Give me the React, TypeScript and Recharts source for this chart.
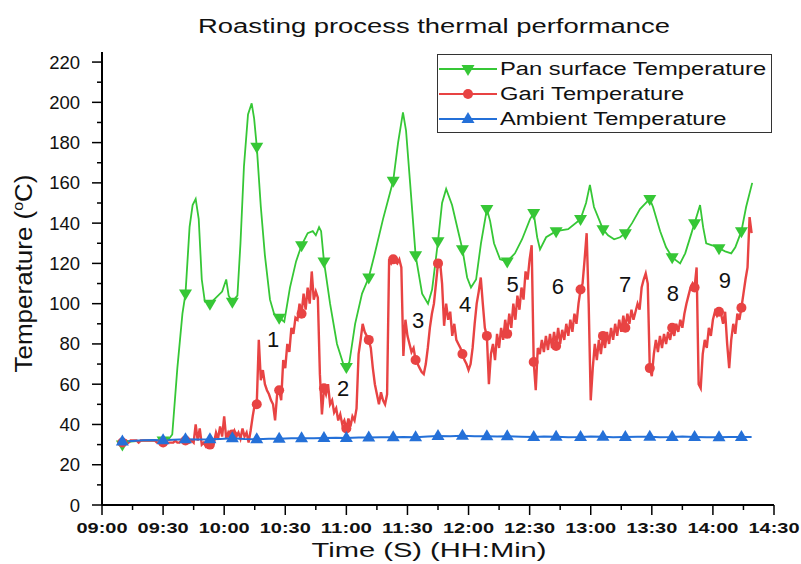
import React from 'react';
import { LineChart, Line, XAxis, YAxis, ReferenceDot, Legend } from 'recharts';

const FONT = '"Liberation Sans", Arial, Helvetica, sans-serif';

// time axis runs in minutes after 09:00
const xTicks = [0, 15, 30, 45, 60, 75, 90, 105, 120, 135, 150, 165, 180, 195, 210, 225, 240, 255, 270, 285, 300, 315, 330];
const xTickLabels = ['09:00', '09:30', '10:00', '10:30', '11:00', '11:30', '12:00', '12:30', '13:00', '13:30', '14:00', '14:30'];
const yTicks = [0, 10, 20, 30, 40, 50, 60, 70, 80, 90, 100, 110, 120, 130, 140, 150, 160, 170, 180, 190, 200, 210, 220];

// readings that carry a symbol
const markerTimes = [10, 30, 41, 53, 64, 76, 87, 98, 109, 120, 131, 143, 154, 165, 177, 189, 199, 212, 223, 235, 246, 257, 269, 280, 291, 303, 314];

// [minute, °C]
const panSurface: [number, number][] = [
  [10, 30], [14, 31.5], [20, 32], [25, 32], [30, 32], [33, 33], [34.5, 35], [37, 68], [39.5, 95], [41, 105],
  [43, 138], [44.5, 149], [46, 152], [47.5, 142], [49, 112], [50.5, 101], [53, 100], [56, 103], [59, 106], [61, 112],
  [62.2, 104], [64, 101], [66.5, 104], [68, 130], [69.7, 168], [71.7, 194], [73.5, 199.5], [74.7, 192], [76, 178], [78, 148],
  [80, 124], [82.5, 102], [84.5, 95], [87, 93], [89.5, 91], [92.3, 108], [95.3, 121], [98, 129], [101, 135], [103.5, 136],
  [105, 134], [106.6, 138], [107.6, 136], [109, 121], [112, 100], [115.4, 80], [118.5, 70], [120, 68.6], [121.5, 71], [124.3, 90],
  [127.7, 105], [131, 113], [134, 125], [138, 142], [143, 161], [145.4, 180], [147.8, 195], [149.3, 186], [151.3, 160], [154, 124],
  [157.2, 105], [160.1, 100], [162.1, 107], [165, 131], [167, 150], [169, 157], [171.9, 149], [174.9, 136], [177, 127], [179.3, 113],
  [181.2, 108], [183.7, 112], [186.1, 130], [189, 147], [190.6, 141], [192.5, 130], [195.5, 122], [199, 121], [202.8, 125], [206.3, 132],
  [210.2, 142], [212, 145], [213.7, 133], [215.1, 127], [218.1, 133], [223, 136], [228.9, 137], [235, 142], [237.7, 150], [239.6, 159],
  [241.6, 148], [246, 137], [248.5, 134], [251.5, 132], [254.4, 133], [257, 135], [260.3, 140], [264.2, 147], [269, 152], [270.6, 148],
  [274.1, 136], [277, 128], [280, 123], [283.9, 120], [286.4, 125], [291, 140], [293.7, 149], [295.2, 138], [296.7, 130], [299.6, 129],
  [303, 127.5], [306, 126], [309, 125], [311, 128], [314, 136], [316.3, 148], [319.3, 160],
];

// gari thermocouple logged once a minute from 09:10
const gariStart = 10;
const gariTemps = [
  31, 31, 32, 31, 32, 32, 32, 32, 31, 32,
  32, 32, 32, 32, 32, 32, 32, 31, 31, 30,
  31, 32, 31, 31, 31, 31, 32, 31, 31, 32,
  31, 32, 31, 31, 32, 31, 40, 32, 38, 30,
  31, 29, 30, 30, 29, 31, 36, 33, 39, 34,
  44, 33, 36, 34, 35, 37, 34, 36, 33, 38,
  34, 36, 31, 37, 44, 50, 50, 82, 62, 67,
  60, 57, 55, 52, 50, 42, 55, 57, 52, 72,
  68, 80, 76, 88, 85, 93, 92, 100, 95, 105,
  97, 108, 100, 116, 102, 106, 103, 65, 45, 58,
  55, 60, 50, 52, 46, 48, 42, 45, 40, 42,
  38, 43, 39, 44, 42, 48, 75, 82, 90, 86,
  84, 82, 78, 68, 60, 55, 50, 56, 52, 50,
  55, 122, 120, 122, 121, 120, 122, 118, 74, 92,
  84, 80, 76, 78, 72, 70, 68, 66, 65, 70,
  78, 88, 95, 100, 110, 120, 121, 110, 89, 100,
  92, 96, 84, 90, 82, 80, 78, 75, 72, 70,
  67, 70, 78, 90, 100, 106, 113, 100, 88, 84,
  60, 75, 80, 72, 85, 78, 88, 82, 92, 85,
  95, 88, 100, 92, 104, 97, 108, 102, 116, 112,
  122, 129, 71, 57, 78, 75, 82, 76, 84, 77,
  85, 78, 86, 79, 88, 80, 87, 82, 90, 84,
  92, 86, 95, 90, 100, 107, 110, 122, 135, 100,
  52, 68, 80, 72, 82, 75, 84, 78, 86, 80,
  88, 82, 90, 84, 92, 86, 94, 88, 95, 90,
  97, 92, 96, 100, 97, 108, 112, 115, 110, 68,
  64, 75, 82, 76, 84, 78, 85, 80, 86, 82,
  88, 84, 90, 86, 92, 88, 95, 100, 104, 108,
  110, 108, 118, 60, 58, 75, 82, 78, 88, 84,
  92, 96, 94, 96, 95, 90, 96, 80, 68, 82,
  90, 85, 95, 92, 98, 105, 112, 118, 143, 135,
];

const ambient: [number, number][] = [
  [10, 31.5], [15, 31.8], [20, 32.2], [25, 32.3], [30, 32.2], [35, 32.4], [41, 32.6], [47, 32.5], [53, 32.6], [58, 32.8],
  [64, 33.1], [70, 32.8], [76, 32.7], [82, 32.9], [87, 32.9], [93, 33.1], [98, 33.2], [104, 33.1], [109, 33.3], [115, 33.4],
  [120, 33.3], [126, 33.5], [131, 33.5], [137, 33.7], [143, 33.6], [148, 33.8], [154, 33.7], [160, 34], [165, 34.3], [171, 34.1],
  [177, 34.4], [183, 34.2], [189, 34.2], [194, 34], [199, 34.1], [206, 33.9], [212, 33.8], [217, 34], [223, 33.9], [229, 33.7],
  [235, 33.8], [240, 34], [246, 33.9], [251, 33.7], [257, 33.8], [263, 33.9], [269, 33.9], [274, 33.7], [280, 33.8], [285, 34],
  [291, 33.8], [297, 33.6], [303, 33.7], [308, 33.8], [314, 33.8], [319, 33.8],
];

// roasting cycle numbers
const cycleLabels = [
  { label: '1', t: 84, temp: 82.4 },
  { label: '2', t: 118.4, temp: 58.2 },
  { label: '3', t: 155.2, temp: 92 },
  { label: '4', t: 178.3, temp: 99.8 },
  { label: '5', t: 201.7, temp: 109.7 },
  { label: '6', t: 223.9, temp: 108.7 },
  { label: '7', t: 256.9, temp: 109.7 },
  { label: '8', t: 280.4, temp: 105.4 },
  { label: '9', t: 305.9, temp: 111.7 },
];

const panData = panSurface.map(([t, v]) => ({ t, v }));
const gariData = gariTemps.map((v, i) => ({ t: gariStart + i, v }));
const ambientData = ambient.map(([t, v]) => ({ t, v }));

type Shape = 'down' | 'circle' | 'up';

const series = [
  { name: 'Pan surface Temperature', color: '#36c736', width: 1.8, shape: 'down' as Shape, data: panData },
  { name: 'Gari Temperature', color: '#e84343', width: 2.4, shape: 'circle' as Shape, data: gariData },
  { name: 'Ambient Temperature', color: '#2470d8', width: 2, shape: 'up' as Shape, data: ambientData },
];

const markerSet = new Set(markerTimes);

function Marker({ shape, cx, cy, color }: { shape: Shape; cx: number; cy: number; color: string }) {
  if (shape === 'circle') return <circle cx={cx} cy={cy} r={5} fill={color} />;
  if (shape === 'down') {
    return <polygon points={`${cx - 6.5},${cy - 4} ${cx + 6.5},${cy - 4} ${cx},${cy + 7}`} fill={color} />;
  }
  return <polygon points={`${cx - 6.5},${cy + 4} ${cx + 6.5},${cy + 4} ${cx},${cy - 7}`} fill={color} />;
}

const makeDot = (shape: Shape, color: string) => (props: any) => {
  const { cx, cy, payload, index } = props;
  if (!markerSet.has(payload.t)) return <g key={`n-${index}`} />;
  return (
    <g key={`m-${index}`}>
      <Marker shape={shape} cx={cx} cy={cy} color={color} />
    </g>
  );
};

function BottomTick({ x, y, payload }: any) {
  const v = payload.value;
  const major = v % 30 === 0;
  return (
    <g>
      <line x1={x} x2={x} y1={y} y2={y + (major ? 10 : 5)} stroke="#000" strokeWidth={1.5} />
      {major && (
        <text x={x} y={y + 28} textAnchor="middle" fontFamily={FONT} fontWeight="bold" fontSize={15}
          fill="#111" textLength={51} lengthAdjust="spacingAndGlyphs">
          {xTickLabels[v / 30]}
        </text>
      )}
    </g>
  );
}

function TopTick({ x, y, payload }: any) {
  const major = payload.value % 30 === 0;
  return <line x1={x} x2={x} y1={y} y2={y + (major ? 8 : 5)} stroke="#000" strokeWidth={1.5} />;
}

function LeftTick({ x, y, payload }: any) {
  const v = payload.value;
  const major = v % 20 === 0;
  return (
    <g>
      <line x1={x - (major ? 10 : 5)} x2={x} y1={y} y2={y} stroke="#000" strokeWidth={1.5} />
      {major && (
        <text x={x - 22} y={y + 6.5} textAnchor="end" fontFamily={FONT} fontSize={18.5} fill="#111">
          {v}
        </text>
      )}
    </g>
  );
}

function RightTick({ x, y, payload }: any) {
  const major = payload.value % 20 === 0;
  return <line x1={x - (major ? 10 : 5)} x2={x} y1={y} y2={y} stroke="#000" strokeWidth={1.5} />;
}

const XTitle = ({ viewBox }: any) => (
  <text x={viewBox.x + viewBox.width / 2 - 9} y={viewBox.y + 52} textAnchor="middle" fontFamily={FONT}
    fontSize={20.5} fill="#111" textLength={235} lengthAdjust="spacingAndGlyphs">
    Time (S) (HH:Min)
  </text>
);

const YTitle = ({ viewBox }: any) => {
  const x = viewBox.x + 32;
  const y = viewBox.y + viewBox.height / 2 - 5;
  return (
    <text x={x} y={y} transform={`rotate(-90 ${x} ${y})`} textAnchor="middle" fontFamily={FONT}
      fontSize={23} fill="#111" textLength={198} lengthAdjust="spacingAndGlyphs">
      Temperature (<tspan fontSize={14} dy={-9}>o</tspan><tspan dy={9}>C)</tspan>
    </text>
  );
};

const renderLegend = () => (
  <svg width={335} height={79} style={{ display: 'block' }}>
    <rect x={0.5} y={0.5} width={334} height={78} fill="#fff" stroke="#333" strokeWidth={1} />
    {series.map((s, i) => {
      const cy = 15 + i * 25;
      return (
        <g key={s.name}>
          <line x1={2} x2={60} y1={cy} y2={cy} stroke={s.color} strokeWidth={2} />
          <Marker shape={s.shape} cx={31} cy={cy} color={s.color} />
          <text transform={`translate(63 ${cy + 6}) scale(1.32 1)`} fontFamily={FONT} fontSize={18} fill="#111">
            {s.name}
          </text>
        </g>
      );
    })}
  </svg>
);

export default function App() {
  return (
    <div style={{ position: 'absolute', left: 0, top: 0, width: 801, height: 564, background: '#fff' }}>
      <svg width={801} height={45} style={{ position: 'absolute', left: 0, top: 0 }}>
        <text x={198} y={32.5} fontFamily={FONT} fontSize={20} fill="#111" textLength={472}
          lengthAdjust="spacingAndGlyphs">
          Roasting process thermal performance
        </text>
      </svg>
      <LineChart width={801} height={564} margin={{ top: 52, right: 27, bottom: 0, left: 0 }}>
        <XAxis
          type="number"
          dataKey="t"
          domain={[0, 330]}
          ticks={xTicks}
          interval={0}
          height={59}
          tickSize={0}
          tickMargin={0}
          tick={<BottomTick />}
          axisLine={{ stroke: '#000', strokeWidth: 2 }}
          label={{ content: <XTitle /> }}
        />
        <XAxis
          xAxisId="top"
          orientation="top"
          type="number"
          dataKey="t"
          domain={[0, 330]}
          ticks={xTicks}
          interval={0}
          height={0}
          tickSize={0}
          tickMargin={0}
          tick={<TopTick />}
          axisLine={{ stroke: '#000', strokeWidth: 2 }}
        />
        <YAxis
          type="number"
          domain={[0, 225]}
          ticks={yTicks}
          interval={0}
          width={102}
          tickSize={0}
          tickMargin={0}
          tick={<LeftTick />}
          axisLine={{ stroke: '#000', strokeWidth: 2 }}
          label={{ content: <YTitle /> }}
        />
        <YAxis
          yAxisId="right"
          orientation="right"
          type="number"
          domain={[0, 225]}
          ticks={yTicks}
          interval={0}
          width={0}
          tickSize={0}
          tickMargin={0}
          tick={<RightTick />}
          axisLine={{ stroke: '#000', strokeWidth: 2 }}
        />
        {series.map((s) => (
          <Line
            key={s.name}
            data={s.data}
            dataKey="v"
            name={s.name}
            type="linear"
            stroke={s.color}
            strokeWidth={s.width}
            dot={makeDot(s.shape, s.color)}
            activeDot={false}
            isAnimationActive={false}
          />
        ))}
        {cycleLabels.map((c) => (
          <ReferenceDot
            key={c.label}
            x={c.t}
            y={c.temp}
            r={1}
            fill="none"
            stroke="none"
            label={{ value: c.label, position: 'center', fontSize: 22, fill: '#111', fontFamily: FONT }}
          />
        ))}
        <Legend
          layout="vertical"
          align="center"
          verticalAlign="middle"
          content={renderLegend}
          wrapperStyle={{ position: 'absolute', left: 437, top: 54, width: 335, height: 79, margin: 0, padding: 0 }}
        />
      </LineChart>
    </div>
  );
}
